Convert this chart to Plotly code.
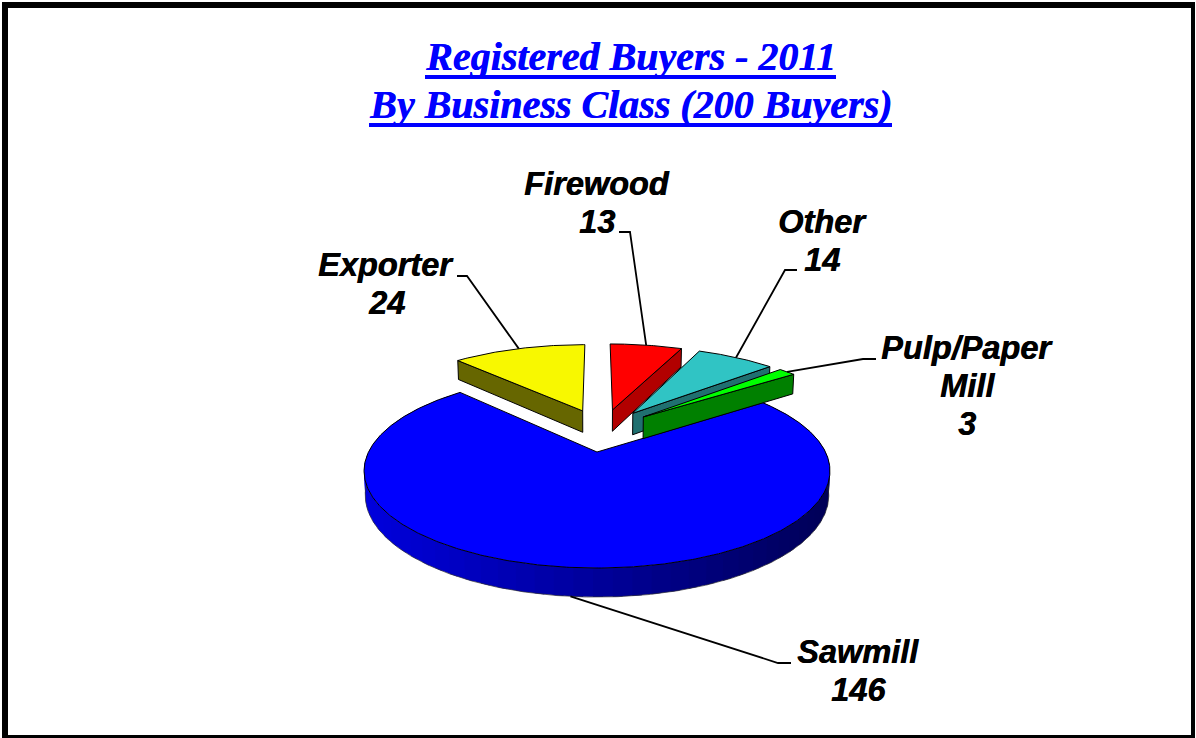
import numpy as np
import plotly.graph_objects as go

# data, counter-clockwise starting from the left edge of the big slice
names = ['Sawmill', 'Pulp/Paper Mill', 'Other', 'Firewood', 'Exporter']
label_lines = [['Sawmill'], ['Pulp/Paper', 'Mill'], ['Other'], ['Firewood'], ['Exporter']]
values = [146, 3, 14, 13, 24]
top_colors = ['#0000FF', '#00FF00', '#30C4C4', '#FF0000', '#F8F800']
side_colors = ['#000099', '#008000', '#207070', '#B20000', '#666600']

title_lines = ['Registered Buyers - 2011', 'By Business Class (200 Buyers)']

# where each label block sits: centre x, y of first line, then the leader elbow points
label_pos = [(858, 652), (967, 348), (822, 222), (597, 184), (386, 265)]
leader_elbow = [
    [(791, 663), (778, 663)],
    [(876, 359), (863, 359)],
    [(797, 270), (785, 270)],
    [(619, 232), (630, 232)],
    [(457, 276), (467, 276)],
]
# underline of each title line: x start, x end, y
title_rules = [(425, 836, 77), (369, 892, 125)]

# pie geometry (perspective projection of a disc on the page)
CX, CY = 597, 452
A, B, K = 228.5, 93.4, 0.195
DEPTH = 23.4
EXPLODE = 0.25
START = 133.2
LINE_H = 38


def project(x, y, z=0):
    w = 1 + K * y
    return CX + A * x / w * (1 - 0.005 * z), CY - B * y / w + DEPTH * z / w


def rim(ax, ay, a0, a1, z=0):
    n = max(int(abs(a1 - a0)) * 2, 2)
    th = np.radians(np.linspace(a0, a1, n))
    return project(ax + np.cos(th), ay + np.sin(th), z)


def poly(fig, xs, ys, fill, line='black', width=1):
    fig.add_trace(go.Scatter(x=list(xs), y=list(ys), mode='lines', fill='toself', fillcolor=fill,
                             line=dict(color=line, width=width), hoverinfo='skip', showlegend=False))


fig = go.Figure()

total = sum(values)
angles = START + np.cumsum([0] + [v / total * 360 for v in values])
mids = (angles[:-1] + angles[1:]) / 2

# the big slice sits at the disc origin, the others are pushed out from a shared centre
big = np.radians(mids[0])
ox, oy = -EXPLODE * np.cos(big), -EXPLODE * np.sin(big)

apex = []
for m in mids:
    apex.append((ox + EXPLODE * np.cos(np.radians(m)), oy + EXPLODE * np.sin(np.radians(m))))

# painter's order, big slice then from the back left round to the right
for i in [0, 4, 3, 2, 1]:
    ax, ay = apex[i]
    a0, a1 = angles[i], angles[i + 1]
    if i == 0:
        # outer wall in bands that overlap the next one, shading runs dark to the right
        for s in np.arange(a0, a1, 4.0):
            e = min(s + 6.0, a1)
            tx, ty = rim(ax, ay, s, e)
            bx, by = rim(ax, ay, s, e, 1)
            shade = 222 - (np.mean(tx[:len(tx) * 2 // 3]) - 363) / 467 * 135
            col = 'rgb(0,0,%d)' % shade
            poly(fig, np.r_[tx, bx[::-1], tx[0]], np.r_[ty, by[::-1], ty[0]], col, col, 0)
        bx, by = rim(ax, ay, a0, a1, 1)
        fig.add_trace(go.Scatter(x=bx, y=by, mode='lines', line=dict(color='#333333', width=0.7),
                                 hoverinfo='skip', showlegend=False))
    else:
        # only the cut face that looks towards the viewer
        for a, normal in ((a0, a0 - 90), (a1, a1 + 90)):
            if np.sin(np.radians(normal)) >= -1e-6:
                continue
            ex, ey = ax + np.cos(np.radians(a)), ay + np.sin(np.radians(a))
            p = [project(ax, ay), project(ex, ey), project(ex, ey, 1), project(ax, ay, 1), project(ax, ay)]
            poly(fig, [q[0] for q in p], [q[1] for q in p], side_colors[i])
    # top face
    tx, ty = rim(ax, ay, a0, a1)
    px, py = project(ax, ay)
    poly(fig, np.r_[px, tx, px], np.r_[py, ty, py], top_colors[i])

# leaders and labels
for i in range(len(names)):
    ax, ay = apex[i]
    m = np.radians(mids[i])
    z = 1 if i == 0 else 0
    sx, sy = project(ax + np.cos(m), ay + np.sin(m), z)
    pts = leader_elbow[i] + [(sx, sy)]
    fig.add_trace(go.Scatter(x=[p[0] for p in pts], y=[p[1] for p in pts], mode='lines',
                             line=dict(color='black', width=1.8), hoverinfo='skip', showlegend=False))
    lx, ly = label_pos[i]
    for j, t in enumerate(label_lines[i] + [str(values[i])]):
        fig.add_annotation(x=lx, y=ly + j * LINE_H, text=t, showarrow=False, xanchor='center', yanchor='middle',
                           font=dict(family='Liberation Sans', size=32.5, color='black', weight='bold',
                                     style='italic', shadow='0.6px 0 0 #000'))

for j, t in enumerate(title_lines):
    fig.add_annotation(x=630, y=56 + j * 48, text=t, showarrow=False, xanchor='center', yanchor='middle',
                       font=dict(family='Liberation Serif', size=40, color='#0000FF', weight='bold',
                                 style='italic', shadow='0.6px 0 0 #0000FF'))
for x0, x1, y in title_rules:
    fig.add_shape(type='rect', x0=x0, x1=x1, y0=y - 2, y1=y + 2, fillcolor='#0000FF', line_width=0)

# page frame
for x0, y0, x1, y1 in [(2, 2, 1195, 8), (2, 735, 1195, 738), (2, 2, 8, 738), (1191, 2, 1195, 738)]:
    fig.add_shape(type='rect', x0=x0, y0=y0, x1=x1, y1=y1, fillcolor='black', line_width=0)

fig.update_layout(width=1196, height=738, margin=dict(l=0, r=0, t=0, b=0),
                  paper_bgcolor='white', plot_bgcolor='white', showlegend=False)
fig.update_xaxes(range=[0, 1196], visible=False)
fig.update_yaxes(range=[738, 0], visible=False)

fig.write_html("out.html", config={'displayModeBar': False},
               post_script="document.body.style.margin='0';document.body.style.overflow='hidden';")
